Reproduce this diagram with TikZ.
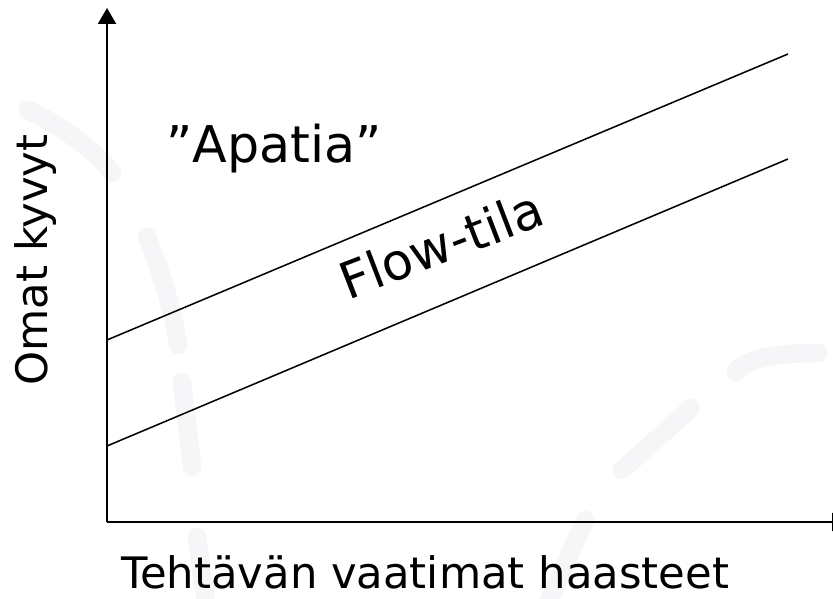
\documentclass[tikz,border=0pt]{standalone}
\usepackage{fontspec}
\setmainfont{DejaVu Sans}
\usetikzlibrary{arrows.meta}
\definecolor{wmark}{RGB}{246,246,248}
\tikzset{
  axisline/.style={line width=1.8pt, -{Triangle[length=12pt,width=13.5pt]}},
  bandline/.style={line width=1.15pt},
  bgstroke/.style={wmark, line width=14pt, line cap=round},
  axislabel/.style={font=\fontsize{32.5}{39}\selectfont, inner sep=0pt},
  biglabel/.style={font=\fontsize{38}{45}\selectfont, inner sep=0pt}
}
\begin{document}
\begin{tikzpicture}[x=0.75pt,y=-0.75pt]
\useasboundingbox (0,0) rectangle (833,599);
% faint background strokes
\draw[bgstroke] (28,110) .. controls (60,125) and (95,150) .. (112,173);
\draw[bgstroke] (147,237) .. controls (160,270) and (172,305) .. (178,345);
\draw[bgstroke] (182,382) -- (192,467);
\draw[bgstroke] (197,537) -- (207,610);
\draw[bgstroke] (622,470) -- (691,408);
\draw[bgstroke] (736,372) .. controls (745,358) and (780,353) .. (818,353);
\draw[bgstroke] (585,520) -- (545,610);
% axes
\coordinate (O) at (107,522);
\coordinate (ytop) at (107,8);
\coordinate (xend) at (848,522);
\draw[axisline] (O) -- (ytop);
\draw[axisline] (O) -- (xend);
% band lines
\coordinate (u1) at (107,340);
\coordinate (u2) at (788,54);
\coordinate (l1) at (107,446);
\coordinate (l2) at (788,159);
\draw[bandline] (u1) -- (u2);
\draw[bandline] (l1) -- (l2);
% labels
\node[axislabel, anchor=base] (xlab) at (425,588) {Tehtävän vaatimat haasteet};
\node[axislabel, anchor=base, rotate=90] (ylab) at (47,260) {Omat kyvyt};
\node[biglabel, anchor=base] (apatia) at (274,163) {”Apatia”};
\node[biglabel, anchor=base, rotate=21] (flow) at (448,262) {Flow-tila};
\end{tikzpicture}
\end{document}
